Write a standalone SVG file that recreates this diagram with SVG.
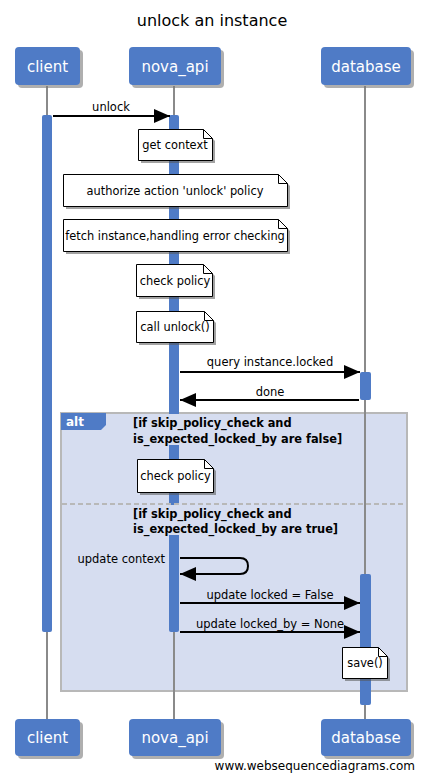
<svg xmlns="http://www.w3.org/2000/svg" width="424" height="780" viewBox="0 0 424 780">
<style>
.t{font-family:"DejaVu Sans","Liberation Sans",sans-serif;}
.title{font-size:16px;fill:#000;}
.pbox{fill:#4f7bc6;}
.pshadow{fill:#7a7a7a;opacity:0.6;}
.ptext{font-size:15px;fill:#fff;text-anchor:middle;}
.life{stroke:#8a8a8a;stroke-width:2;fill:none;}
.act{fill:#4f7bc6;}
.note{fill:#fff;stroke:#000;stroke-width:1;}
.nshadow{fill:#555;opacity:0.55;}
.ntext{font-size:11.4px;fill:#000;text-anchor:middle;}
.msg{stroke:#000;stroke-width:2;fill:none;}
.mtext{font-size:11.5px;fill:#000;text-anchor:middle;}
.guard{font-size:11.4px;fill:#000;font-weight:bold;}
</style>
<defs>
<marker id="ahb" markerWidth="16" markerHeight="14" refX="16" refY="7" orient="auto" markerUnits="userSpaceOnUse">
<path d="M0,0 L16,7 L0,14 z" fill="#000"/>
</marker>
</defs>
<rect width="424" height="780" fill="#fff"/>
<text class="t title" x="212" y="26" text-anchor="middle">unlock an instance</text>

<!-- alt frame background -->
<g id="alt-frame">
<rect x="61" y="413" width="346" height="278" fill="#d6ddf0" stroke="#b8b8b8" stroke-width="2"/>
</g>

<!-- lifelines -->
<g id="lifelines">
<line class="life" x1="47" y1="86" x2="47" y2="719"/>
<line class="life" x1="174" y1="86" x2="174" y2="719"/>
<line class="life" x1="365" y1="86" x2="365" y2="719"/>
</g>

<!-- activations -->
<g id="activations">
<rect class="act" x="42" y="115" width="10" height="517" rx="2"/>
<rect class="act" x="169" y="115" width="10" height="517" rx="2"/>
<rect class="act" x="360" y="372" width="11" height="28" rx="2"/>
<rect class="act" x="360" y="574" width="11" height="131" rx="2"/>
</g>

<g id="alt-labels">
<line x1="62" y1="504" x2="406" y2="504" stroke="#b8b8b8" stroke-width="2" stroke-dasharray="5,3"/>
<rect x="131" y="414" width="212" height="31" fill="#d6ddf0"/>
<rect x="131" y="505" width="212" height="30" fill="#d6ddf0"/>
<path d="M61,413 L106,413 L106,425 L101,430 L61,430 z" fill="#4f7bc6"/>
<text class="t" x="66" y="426" font-size="12" font-weight="bold" fill="#fff">alt</text>
<text class="t guard" x="133" y="427">[if skip_policy_check and</text>
<text class="t guard" x="133" y="443">is_expected_locked_by are false]</text>
<text class="t guard" x="133" y="518">[if skip_policy_check and</text>
<text class="t guard" x="133" y="533">is_expected_locked_by are true]</text>
</g>

<!-- participants -->
<g id="client">
<rect class="pshadow" x="18" y="50" width="65" height="38" rx="4"/>
<rect class="pbox" x="15" y="47" width="65" height="38" rx="4"/>
<text class="t ptext" x="47.5" y="72">client</text>
<rect class="pshadow" x="18" y="722" width="65" height="37" rx="4"/>
<rect class="pbox" x="15" y="719" width="65" height="37" rx="4"/>
<text class="t ptext" x="47.5" y="743">client</text>
</g>
<g id="nova_api">
<rect class="pshadow" x="132" y="50" width="92" height="38" rx="4"/>
<rect class="pbox" x="129" y="47" width="92" height="38" rx="4"/>
<text class="t ptext" x="175" y="72">nova_api</text>
<rect class="pshadow" x="132" y="722" width="92" height="37" rx="4"/>
<rect class="pbox" x="129" y="719" width="92" height="37" rx="4"/>
<text class="t ptext" x="175" y="743">nova_api</text>
</g>
<g id="database">
<rect class="pshadow" x="324" y="50" width="90" height="38" rx="4"/>
<rect class="pbox" x="321" y="47" width="90" height="38" rx="4"/>
<text class="t ptext" x="366" y="72">database</text>
<rect class="pshadow" x="324" y="722" width="90" height="37" rx="4"/>
<rect class="pbox" x="321" y="719" width="90" height="37" rx="4"/>
<text class="t ptext" x="366" y="743">database</text>
</g>

<!-- notes -->
<g id="note-get-context">
<path class="nshadow" d="M141,132 L206,132 L215,141 L215,163 L141,163 z"/>
<path class="note" d="M138.5,129.5 L203.5,129.5 L212.5,138.5 L212.5,160.5 L138.5,160.5 z"/>
<path d="M203.5,129.5 L203.5,138.5 L212.5,138.5" fill="none" stroke="#000"/>
<text class="t ntext" x="175" y="149">get context</text>
</g>
<g id="note-authorize">
<path class="nshadow" d="M66,177 L281,177 L290,186 L290,209 L66,209 z"/>
<path class="note" d="M63.5,174.5 L278.5,174.5 L287.5,183.5 L287.5,206.5 L63.5,206.5 z"/>
<path d="M278.5,174.5 L278.5,183.5 L287.5,183.5" fill="none" stroke="#000"/>
<text class="t ntext" x="175" y="195">authorize action 'unlock' policy</text>
</g>
<g id="note-fetch">
<path class="nshadow" d="M66,222 L281,222 L290,231 L290,254 L66,254 z"/>
<path class="note" d="M63.5,219.5 L278.5,219.5 L287.5,228.5 L287.5,251.5 L63.5,251.5 z"/>
<path d="M278.5,219.5 L278.5,228.5 L287.5,228.5" fill="none" stroke="#000"/>
<text class="t ntext" x="175" y="240">fetch instance,handling error checking</text>
</g>
<g id="note-check-policy-1">
<path class="nshadow" d="M139,267 L206,267 L215,276 L215,299 L139,299 z"/>
<path class="note" d="M136.5,264.5 L203.5,264.5 L212.5,273.5 L212.5,296.5 L136.5,296.5 z"/>
<path d="M203.5,264.5 L203.5,273.5 L212.5,273.5" fill="none" stroke="#000"/>
<text class="t ntext" x="175" y="285">check policy</text>
</g>
<g id="note-call-unlock">
<path class="nshadow" d="M139,314 L207,314 L216,323 L216,345 L139,345 z"/>
<path class="note" d="M136.5,311.5 L204.5,311.5 L213.5,320.5 L213.5,342.5 L136.5,342.5 z"/>
<path d="M204.5,311.5 L204.5,320.5 L213.5,320.5" fill="none" stroke="#000"/>
<text class="t ntext" x="175" y="331">call unlock()</text>
</g>
<g id="note-check-policy-2">
<path class="nshadow" d="M140,462 L207,462 L216,471 L216,495 L140,495 z"/>
<path class="note" d="M137.5,459.5 L204.5,459.5 L213.5,468.5 L213.5,492.5 L137.5,492.5 z"/>
<path d="M204.5,459.5 L204.5,468.5 L213.5,468.5" fill="none" stroke="#000"/>
<text class="t ntext" x="175.5" y="480">check policy</text>
</g>
<g id="note-save">
<path class="nshadow" d="M345,650 L381,650 L390,659 L390,681 L345,681 z"/>
<path class="note" d="M342.5,647.5 L378.5,647.5 L387.5,656.5 L387.5,678.5 L342.5,678.5 z"/>
<path d="M378.5,647.5 L378.5,656.5 L387.5,656.5" fill="none" stroke="#000"/>
<text class="t ntext" x="365" y="667">save()</text>
</g>

<!-- connectors -->
<g id="connectors">
<line class="msg" x1="53" y1="116" x2="170" y2="116" marker-end="url(#ahb)"/>
<text class="t mtext" x="111" y="111">unlock</text>
<line class="msg" x1="180" y1="372" x2="360" y2="372" marker-end="url(#ahb)"/>
<text class="t mtext" x="270" y="366">query instance.locked</text>
<line class="msg" x1="359" y1="400" x2="180" y2="400" marker-end="url(#ahb)"/>
<text class="t mtext" x="270" y="396">done</text>
<path class="msg" d="M180,558 L240,558 Q248,558 248,566 Q248,574 240,574 L180,574" marker-end="url(#ahb)"/>
<text class="t mtext" x="165" y="563" style="text-anchor:end">update context</text>
<line class="msg" x1="180" y1="603" x2="360" y2="603" marker-end="url(#ahb)"/>
<text class="t mtext" x="270" y="599">update locked = False</text>
<line class="msg" x1="180" y1="632" x2="360" y2="632" marker-end="url(#ahb)"/>
<text class="t mtext" x="270" y="628">update locked_by = None</text>
</g>

<text x="415" y="770" font-size="12" text-anchor="end" fill="#000" font-family="DejaVu Sans, sans-serif">www.websequencediagrams.com</text>
</svg>
